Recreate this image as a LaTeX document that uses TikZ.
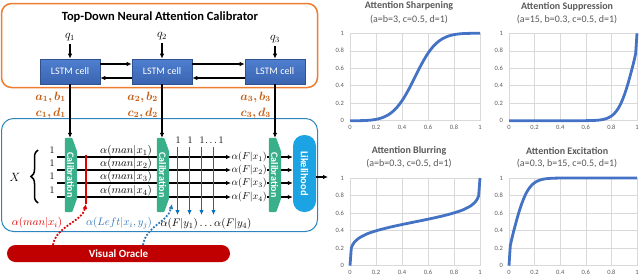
\documentclass[tikz,border=0pt]{standalone}
\usepackage{fontspec}
\setmainfont{Carlito}
\usepackage{amsmath,bm,graphicx}
\usetikzlibrary{arrows.meta,decorations.pathreplacing,calc}
\definecolor{orangeC}{HTML}{ED7D31}
\definecolor{lstmTop}{HTML}{4F7FD0}
\definecolor{lstmBot}{HTML}{3A64B0}
\definecolor{lstmEdge}{HTML}{2F528F}
\definecolor{boxBlue}{HTML}{2E86C1}
\definecolor{calG}{HTML}{3AB08A}
\definecolor{likB}{HTML}{1CA3E3}
\definecolor{oracleR}{HTML}{C00000}
\definecolor{vBlue}{HTML}{0070C0}
\definecolor{redC}{HTML}{E00000}
\definecolor{dotBlue}{HTML}{2E75B6}
\definecolor{labO}{HTML}{C55A11}
\definecolor{chartB}{HTML}{4472C4}
\definecolor{chartT}{HTML}{595959}
\definecolor{gridC}{HTML}{D9D9D9}
\pgfdeclarelayer{bg}
\pgfsetlayers{bg,main}
\newcommand\attchart[9]{%
\begin{scope}[shift={(#2pt,-#3pt)},x=#4pt,y=#5pt]
  \foreach \g in {0,0.2,0.4,0.6,0.8,1} {
    \draw[gridline] (\g,0) -- (\g,1);
    \draw[gridline] (0,\g) -- (1,\g);
  }
  \foreach \g [count=\i] in {0,0.2,0.4,0.6,0.8,1} {
    \node[ticklab,anchor=north] (#1x\i) at (\g,0) [yshift=-4.5pt] {\g};
    \node[ticklab,anchor=east] (#1y\i) at (0,\g) [xshift=-6pt] {\g};
  }
  \node[ctitle] (#1t) at (0.454,1) [yshift=27pt] {#6};
  \node[csub] (#1s) at (0.454,1) [yshift=14pt] {#7};
  \draw[curve] (0,0) -- plot[domain=0.01:0.99,samples=99] (\x,{pow(\x,#8)/(pow(\x,#8)+pow(1-\x,#9))}) -- (1,1);
\end{scope}}
\begin{document}
\begin{tikzpicture}[x=1pt,y=-1pt,
  lstm/.style={draw=lstmEdge,line width=0.6pt,top color=lstmTop,bottom color=lstmBot,minimum width=60pt,minimum height=25pt,inner sep=0pt,text=white,font=\fontsize{10}{12}\selectfont},
  arr/.style={-{Latex[length=5pt,width=4.5pt]},line width=1.3pt},
  rowline/.style={line width=1.3pt},
  calbox/.style={minimum width=12pt,minimum height=74pt,inner sep=0pt},
  caltext/.style={text=white,font=\bfseries\fontsize{10}{12}\selectfont,inner sep=0pt},
  orl/.style={text=labO,font=\fontsize{12}{14}\selectfont,inner sep=0pt},
  mlab/.style={font=\fontsize{11}{12}\selectfont,inner sep=0.3pt},
  flab/.style={font=\fontsize{10}{12}\selectfont,inner sep=0.5pt},
  numlab/.style={font=\fontsize{10}{12}\selectfont,inner sep=0pt},
  vline/.style={draw=vBlue,line width=1.3pt,-{Latex[length=5pt,width=4.5pt]}},
  dotr/.style={draw=redC,line width=1.8pt,dash pattern=on 1.8pt off 1.6pt,-{Latex[length=5pt,width=5pt]}},
  dotb/.style={draw=dotBlue,line width=1.8pt,dash pattern=on 1.8pt off 1.6pt,-{Latex[length=5pt,width=5pt]}},
  gridline/.style={draw=gridC,line width=0.5pt},
  ticklab/.style={text=chartT,font=\fontsize{6.5}{7}\selectfont,inner sep=0pt},
  ctitle/.style={text=chartT,font=\bfseries\fontsize{10}{12}\selectfont,inner sep=0pt},
  csub/.style={text=chartT,font=\fontsize{10}{12}\selectfont,inner sep=0pt},
  curve/.style={draw=chartB,line width=2.8pt,line join=round}
]
\useasboundingbox (0,0) rectangle (640,277);
% outer boxes
\node[draw=orangeC,line width=1.5pt,rounded corners=10pt,minimum width=316pt,minimum height=84pt] (calibrator) at (159.5,45.5) {};
\node[draw=boxBlue,line width=1pt,rounded corners=12pt,minimum width=316pt,minimum height=113pt] (netbox) at (159.5,175) {};
\node[font=\bfseries\fontsize{12.5}{14}\selectfont] (title) at (160,17) {Top-Down Neural Attention Calibrator};
% LSTM cells
\node[lstm] (lstm1) at (70,71.5) {LSTM cell};
\node[lstm] (lstm2) at (162,71.5) {LSTM cell};
\node[lstm] (lstm3) at (275,71.5) {LSTM cell};
\node[font=\fontsize{12}{14}\selectfont] (q1) at (70,37) {$q_1$};
\node[font=\fontsize{12}{14}\selectfont] (q2) at (162,36) {$q_2$};
\node[font=\fontsize{12}{14}\selectfont] (q3) at (275,39) {$q_3$};
\draw[arr] (q1.south) -- (lstm1.north);
\draw[arr] (q2.south) -- (lstm2.north);
\draw[arr] (q3.south) -- (lstm3.north);
\draw[arr] ($(lstm1.east)+(0,-7.5)$) -- ($(lstm2.west)+(0,-7.5)$);
\draw[arr] ($(lstm2.west)+(0,6.5)$) -- ($(lstm1.east)+(0,6.5)$);
\draw[arr] ($(lstm2.east)+(0,-7.5)$) -- ($(lstm3.west)+(0,-7.5)$);
\draw[arr] ($(lstm3.west)+(0,6.5)$) -- ($(lstm2.east)+(0,6.5)$);
% orange labels
\node[orl,anchor=east] (ab1) at (66,97) {$\bm{a_1,b_1}$};
\node[orl,anchor=east] (cd1) at (66,113) {$\bm{c_1,d_1}$};
\node[orl,anchor=east] (ab2) at (158,97) {$\bm{a_2,b_2}$};
\node[orl,anchor=east] (cd2) at (158,113) {$\bm{c_2,d_2}$};
\node[orl,anchor=east] (ab3) at (271,97) {$\bm{a_3,b_3}$};
\node[orl,anchor=east] (cd3) at (271,113) {$\bm{c_3,d_3}$};
% calibration blocks
\node[calbox] (cal1) at (71,175) {};
\node[calbox] (cal2) at (163,175) {};
\node[calbox] (cal3) at (275,175) {};
\foreach \c in {cal1,cal2,cal3} {
  \fill[calG,rounded corners=1pt] (\c.north west) -- ($(\c.north east)+(-5,0)$) -- ($(\c.north east)+(0,14)$) -- ($(\c.south east)+(0,-14)$) -- ($(\c.south east)+(-5,0)$) -- (\c.south west) -- cycle;
}
\node[caltext] (cal1t) at (70.5,175) {\rotatebox{-90}{Calibration}};
\node[caltext] (cal2t) at (162.5,175) {\rotatebox{-90}{Calibration}};
\node[caltext] (cal3t) at (274.5,175) {\rotatebox{-90}{Calibration}};
\node[fill=likB,rounded corners=11pt,minimum width=23pt,minimum height=77pt,inner sep=0pt,text=white,font=\bfseries\fontsize{10.5}{12}\selectfont] (lik) at (304.5,173.5) {\rotatebox{-90}{Likelihood}};
\draw[arr] (lstm1.south) -- (lstm1.south |- cal1.north);
\draw[arr] (lstm2.south) -- (lstm2.south |- cal2.north);
\draw[arr] (lstm3.south) -- (lstm3.south |- cal3.north);
% input X
\node[font=\fontsize{11.5}{13}\selectfont] (X) at (15,177) {$X$};
\draw[decorate,decoration={brace,amplitude=7pt},line width=1.5pt] (38,203) -- (38,150);
% rows
\foreach \k/\yy in {1/157,2/170,3/183,4/197} {
  \coordinate (s\k) at (57,\yy);
  \node[numlab] (one\k) at (52,\yy-7) {$1$};
  \node[mlab,anchor=south] (mx\k) at (126,\yy) {$\alpha(man|x_\k)$};
  \node[flab,anchor=west] (fx\k) at (231,\yy) {$\alpha(F|x_\k)$};
  \begin{pgfonlayer}{bg}
    \draw[rowline] (s\k) -- (s\k -| cal2.west);
  \end{pgfonlayer}
  \draw[arr] (s\k -| cal2.east) -- (fx\k.west);
  \draw[rowline] (fx\k.east) -- (s\k -| cal3.west);
  \draw[arr] (s\k -| cal3.east) -- (s\k -| lik.west);
}
\coordinate (out) at (328,177);
\draw[arr] (lik.east |- out) -- (out);
% blue column lines
\node[numlab] (n1) at (178,140) {$1$};
\node[numlab] (n2) at (190,140) {$1$};
\node[numlab] (n3) at (202,140) {$1$};
\node[numlab,anchor=west] (n4) at (205,140) {$\dots1$};
\foreach \k/\xx in {1/177.5,2/189.5,3/201.5,4/213.5} {
  \coordinate (bt\k) at (\xx,147);
  \coordinate (bb\k) at (\xx,215);
  \draw[vline] (bt\k) -- (bb\k);
}
\node[font=\fontsize{11}{12}\selectfont] (fy) at (206,224) {$\alpha(F|y_1)\ldots\alpha(F|y_4)$};
% red line
\coordinate (rt) at (86,155);
\coordinate (rb) at (86,204);
\draw[draw=redC,line width=1.5pt] (rt) -- (rb);
% oracle
\node[fill=oracleR,rounded corners=8.5pt,minimum width=223pt,minimum height=17pt,inner sep=0pt,text=white,font=\bfseries\fontsize{11}{13}\selectfont] (oracle) at (118.5,253.5) {Visual Oracle};
\node[font=\fontsize{11}{12}\selectfont,text=redC] (rl) at (37,223) {$\alpha(man|x_i)$};
\node[font=\fontsize{11}{12}\selectfont,text=dotBlue] (bl) at (119,223) {$\alpha(Left|x_i,y_j)$};
\coordinate (rs) at (53,245);
\coordinate (bs) at (143,245);
\coordinate (be) at (172,204);
\draw[dotr] (rs) .. controls (56,226) and (82,222) .. (rb);
\draw[dotb] (bs) .. controls (146,226) and (168,222) .. (be);
% charts
\attchart{ca}{350}{120.7}{130}{87.4}{Attention Sharpening}{(a=b=3, c=0.5, d=1)}{3}{3}
\attchart{cb}{509}{120.7}{128}{87.4}{Attention Suppression}{(a=15, b=0.3, c=0.5, d=1)}{15}{0.3}
\attchart{cc}{350}{265.7}{130}{87.7}{Attention Blurring}{(a=b=0.3, c=0.5, d=1)}{0.3}{0.3}
\attchart{cd}{509}{265.7}{128}{87.7}{Attention Excitation}{(a=0.3, b=15, c=0.5, d=1)}{0.3}{15}
\end{tikzpicture}
\end{document}
